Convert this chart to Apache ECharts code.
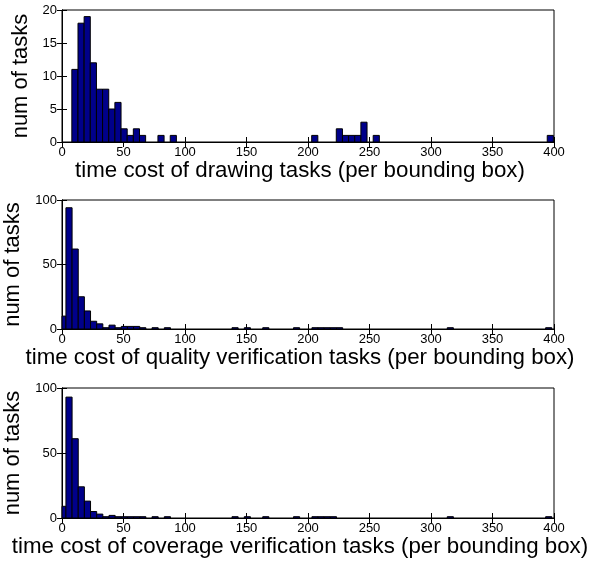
<!DOCTYPE html>
<html>
<head>
<meta charset="utf-8">
<script src="https://cdn.jsdelivr.net/npm/echarts@6/dist/echarts.min.js"></script>
<style>
  html, body { margin: 0; padding: 0; background: #fff; }
  #chart { width: 590px; height: 564px; }
</style>
</head>
<body>
<div id="chart"></div>
<script>
// ---- data (bin centre, count) ----
const binWidth = 5;
const xTicks = [0, 50, 100, 150, 200, 250, 300, 350, 400];

const drawingBins = [
  [10.5, 11], [15.5, 18], [20.5, 19], [25.5, 12], [30.5, 8], [35.5, 8],
  [40.5, 5], [45.5, 6], [50.5, 2], [55.5, 1], [60.5, 2], [65.5, 1],
  [80.5, 1], [90.5, 1], [205.5, 1], [225.5, 2], [230.5, 1], [235.5, 1],
  [240.5, 1], [245.5, 3], [255.5, 1], [397, 1]
];

const qualityBins = [
  [0.7, 10], [5.7, 94], [10.7, 62], [15.7, 25], [20.7, 14], [25.7, 6],
  [30.7, 4], [35.7, 1], [40.7, 3], [45.7, 1], [50.7, 2], [55.7, 2],
  [60.7, 2], [65.7, 1], [75.7, 1], [85.7, 1], [140.7, 1], [150.7, 1],
  [165.7, 1], [190.7, 1], [205.7, 1], [210.7, 1], [215.7, 1], [220.7, 1],
  [225.7, 1], [315.7, 1], [395.7, 1]
];

const coverageBins = [
  [0.7, 9], [5.7, 93], [10.7, 61], [15.7, 24], [20.7, 13], [25.7, 5],
  [30.7, 3], [35.7, 1], [40.7, 2], [45.7, 1], [50.7, 1], [55.7, 1],
  [60.7, 1], [65.7, 1], [75.7, 1], [85.7, 1], [140.7, 1], [150.7, 1],
  [165.7, 1], [190.7, 1], [205.7, 1], [210.7, 1], [215.7, 1], [220.7, 1],
  [315.7, 1], [395.7, 1]
];

const panels = [
  { bins: drawingBins, yMax: 20, yInterval: 5,
    xName: 'time cost of drawing tasks (per bounding box)', yName: 'num of tasks' },
  { bins: qualityBins, yMax: 100, yInterval: 50,
    xName: 'time cost of quality verification tasks (per bounding box)', yName: 'num of tasks' },
  { bins: coverageBins, yMax: 100, yInterval: 50,
    xName: 'time cost of coverage verification tasks (per bounding box)', yName: 'num of tasks' }
];

// ---- layout / style ----
const gridBoxes = [
  { top: 10, height: 132 },
  { top: 200, height: 129 },
  { top: 388, height: 130 }
];
const FONT = '"Liberation Sans", Arial, Helvetica, sans-serif';
const BAR_FILL = '#00008a';

const chart = echarts.init(document.getElementById('chart'), null, { renderer: 'canvas' });

function renderBar(params, api) {
  const x = api.value(0), y = api.value(1);
  const p0 = api.coord([x - binWidth / 2, y]);
  const p1 = api.coord([x + binWidth / 2, 0]);
  const cs = params.coordSys;
  const rect = echarts.graphic.clipRectByRect(
    { x: p0[0], y: p0[1], width: p1[0] - p0[0], height: p1[1] - p0[1] },
    { x: cs.x, y: cs.y, width: cs.width, height: cs.height }
  );
  if (!rect) return null;
  return {
    type: 'rect',
    shape: rect,
    style: { fill: BAR_FILL, stroke: '#000', lineWidth: 1 }
  };
}

const grid = [], xAxis = [], yAxis = [], series = [];
panels.forEach((p, i) => {
  grid.push({
    left: 62, right: 36, top: gridBoxes[i].top, height: gridBoxes[i].height,
    containLabel: false, outerBoundsMode: 'none',
    show: true, borderColor: '#000', borderWidth: 1, backgroundColor: '#fff'
  });
  const common = { type: 'value', gridIndex: i, min: 0, max: 400, interval: 50, splitLine: { show: false } };
  xAxis.push(Object.assign({}, common, {
    position: 'bottom',
    axisLine: { show: true, lineStyle: { color: '#000', width: 1 } },
    axisTick: { show: true, inside: true, length: 5, lineStyle: { color: '#000' } },
    axisLabel: {
      color: '#000', fontSize: 13, fontFamily: FONT, margin: 4,
      formatter: v => (xTicks.indexOf(v) >= 0 ? String(v) : '')
    },
    name: p.xName, nameLocation: 'middle', nameGap: 14,
    nameTextStyle: { color: '#000', fontSize: 22.3, fontFamily: FONT, padding: [0, 16, 0, 0] }
  }));
  xAxis.push(Object.assign({}, common, {
    position: 'top',
    axisLine: { show: true, lineStyle: { color: '#000', width: 1 } },
    axisTick: { show: true, inside: true, length: 5, lineStyle: { color: '#000' } },
    axisLabel: { show: false }
  }));
  const yCommon = { type: 'value', gridIndex: i, min: 0, max: p.yMax, interval: p.yInterval, splitLine: { show: false } };
  yAxis.push(Object.assign({}, yCommon, {
    position: 'left',
    axisLine: { show: true, lineStyle: { color: '#000', width: 1 } },
    axisTick: { show: true, inside: true, length: 5, lineStyle: { color: '#000' } },
    axisLabel: { color: '#000', fontSize: 13, fontFamily: FONT, margin: 5 },
    name: p.yName, nameLocation: 'middle', nameGap: 28, nameRotate: 90,
    nameTextStyle: { color: '#000', fontSize: 22, fontFamily: FONT }
  }));
  yAxis.push(Object.assign({}, yCommon, {
    position: 'right',
    axisLine: { show: true, lineStyle: { color: '#000', width: 1 } },
    axisTick: { show: true, inside: true, length: 5, lineStyle: { color: '#000' } },
    axisLabel: { show: false }
  }));
  series.push({
    type: 'custom',
    xAxisIndex: i * 2,
    yAxisIndex: i * 2,
    renderItem: renderBar,
    encode: { x: 0, y: 1 },
    data: p.bins,
    silent: true,
    z: 1
  });
});

chart.setOption({
  animation: false,
  backgroundColor: '#fff',
  grid, xAxis, yAxis, series
});
</script>
</body>
</html>
